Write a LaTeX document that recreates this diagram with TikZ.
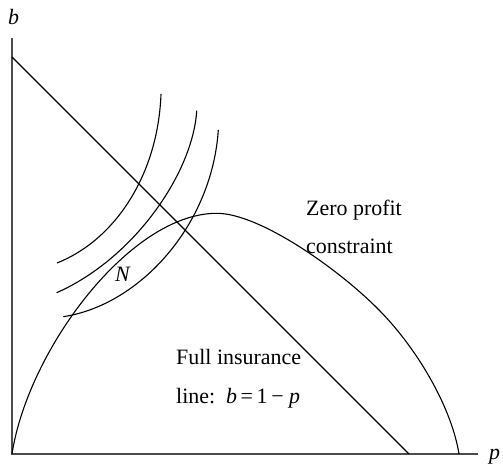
\documentclass[tikz,border=0pt]{standalone}
\usepackage{fontspec}
\setmainfont{Liberation Serif}
\begin{document}
\begin{tikzpicture}[x=1bp,y=-1bp,
  curve/.style={line width=1.1bp,black},
  axis/.style={line width=1.7bp,black!70},
  lbl/.style={inner sep=0pt,anchor=base west,font=\fontsize{22}{26}\selectfont}]
\useasboundingbox (0,0) rectangle (503,471);
% axes
\coordinate (O) at (12,454);
\coordinate (ytop) at (12,38);
\coordinate (xend) at (478,454);
\draw[axis] (ytop) -- (O) -- (xend);
\node[lbl] (lb) at (8,25) {\textit{b}};
\node[lbl] (lp) at (489,459) {\textit{p}};
% full insurance line
\coordinate (d1) at (12,57);
\coordinate (d2) at (409,454);
\draw[curve] (d1) -- (d2);
% zero profit constraint
\coordinate (zpk) at (216.7,213.3);
\coordinate (zm) at (380,311);
\coordinate (zend) at (459,454);
\draw[curve] (O) .. controls (28,350) and (130,213.3) .. (zpk)
  .. controls (260,213.3) and (340,270) .. (zm)
  .. controls (420,352) and (452,410) .. (zend);
% indifference curves
\draw[curve] (57,263) .. controls (115,240) and (158,175) .. (161,94);
\draw[curve] (56.7,292.7) .. controls (135,258) and (193,172) .. (196.7,110.7);
\draw[curve] (63.3,316.7) .. controls (140,305) and (212,225) .. (218.3,130);
% labels
\node[lbl] (N) at (115,281) {\textit{N}};
\node[lbl] (zp) at (306,215.5) {Zero profit};
\node[lbl] (cs) at (306,253) {constraint};
\node[lbl] (fi) at (176,364) {Full insurance};
\node[lbl] (li) at (176,403) {line:\ \ \textit{b}\,=\,1\,−\ \textit{p}};
\end{tikzpicture}
\end{document}
